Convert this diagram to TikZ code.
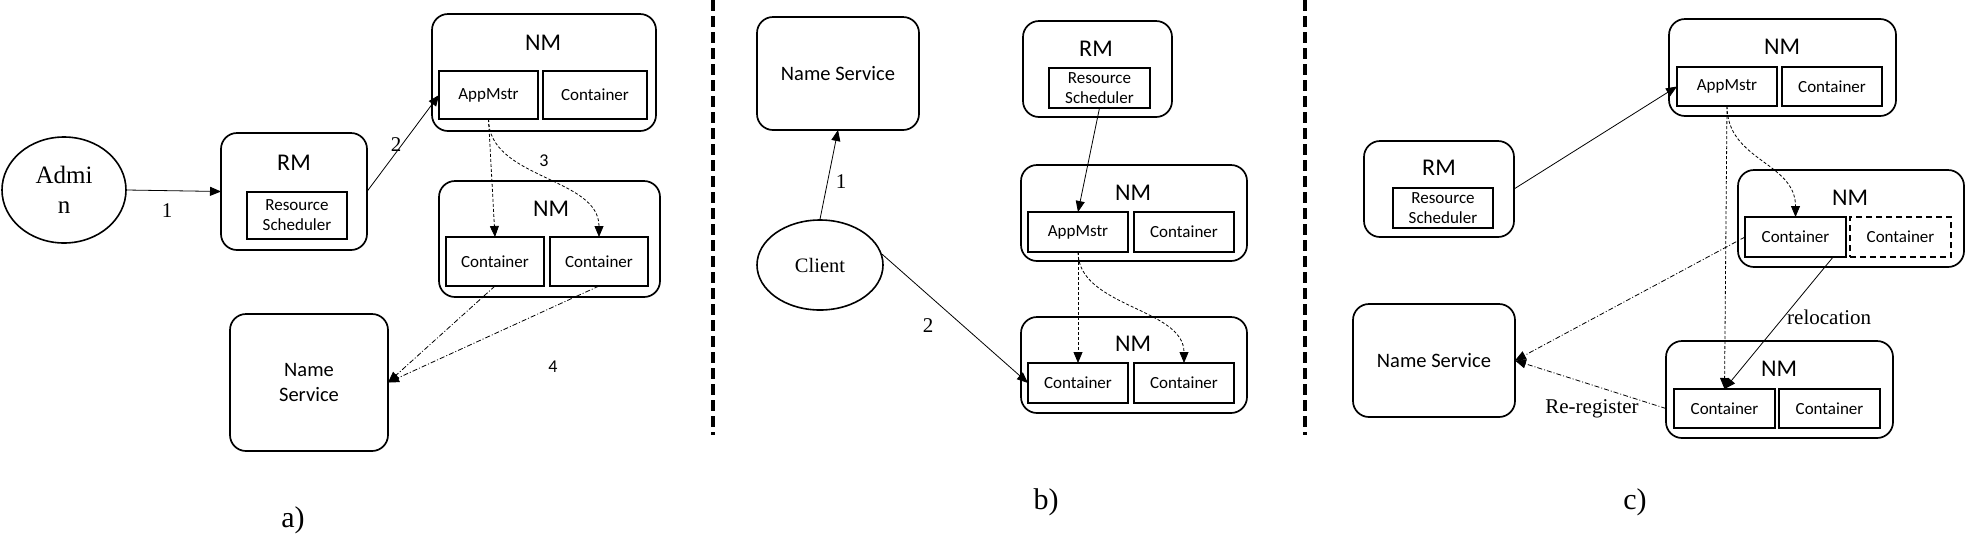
\documentclass[tikz,border=0pt]{standalone}
\usepackage{fontspec}
\setmainfont{Liberation Serif}
\newfontfamily\calfont{Carlito}
\usetikzlibrary{arrows.meta,shapes.geometric,calc}
\begin{document}
\begin{tikzpicture}[x=1pt,y=-1pt,
  outerbox/.style={draw, line width=1.7pt, rounded corners=16pt, inner sep=0pt, outer sep=0pt},
  innerbox/.style={draw, line width=1.8pt, inner sep=0pt, outer sep=0pt, align=center,
    font=\calfont\fontsize{17}{20}\selectfont},
  dashbox/.style={innerbox, dash pattern=on 6pt off 4pt},
  bigsans/.style={inner sep=0pt, font=\calfont\fontsize{24}{28}\selectfont},
  midsans/.style={inner sep=0pt, align=center, font=\calfont\fontsize{20.5}{25}\selectfont},
  numsans/.style={inner sep=0pt, font=\calfont\fontsize{18}{20}\selectfont},
  numserif/.style={inner sep=0pt, font=\fontsize{21}{24}\selectfont},
  caption/.style={inner sep=0pt, font=\fontsize{30}{34}\selectfont},
  oval/.style={draw, ellipse, line width=1.6pt, inner sep=0pt, align=center},
  arr/.style={-{Triangle[length=11pt,width=9pt]}, line width=0.8pt},
  dasharr/.style={arr, dash pattern=on 3pt off 2pt},
  dotarr/.style={arr, dash pattern=on 5pt off 2pt on 1pt off 2pt},
  sep/.style={line width=4pt, dash pattern=on 11pt off 5pt}
]
\useasboundingbox (0,0) rectangle (1965,558);

% separators
\coordinate (s1t) at (713,0);
\coordinate (s1b) at (713,435);
\coordinate (s2t) at (1305,0);
\coordinate (s2b) at (1305,435);
\draw[sep] (s1t) -- (s1b);
\draw[sep] (s2t) -- (s2b);

% ================= panel a =================
\node[oval, minimum width=124pt, minimum height=106pt, font=\fontsize{25}{30}\selectfont] (admin) at (64,190) {Admi\\n};
\node[outerbox, minimum width=146pt, minimum height=117pt] (rmA) at (294,191.5) {};
\node[bigsans] (rmAl) at (294,163) {RM};
\node[innerbox, minimum width=100pt, minimum height=47pt] (rsA) at (297,215.5) {Resource\\Scheduler};
\node[outerbox, minimum width=224pt, minimum height=117pt] (nmA1) at (544,72.5) {};
\node[bigsans] (nmA1l) at (543,43) {NM};
\node[innerbox, minimum width=99pt, minimum height=48pt] (amA) at (488.5,95) {AppMstr};
\node[innerbox, minimum width=104pt, minimum height=48pt] (cA1) at (595,95) {Container};
\node[outerbox, minimum width=221pt, minimum height=116pt] (nmA2) at (549.5,239) {};
\node[bigsans] (nmA2l) at (551,209) {NM};
\node[innerbox, minimum width=98pt, minimum height=49pt] (cA2) at (495,261.5) {Container};
\node[innerbox, minimum width=98pt, minimum height=49pt] (cA3) at (599,261.5) {Container};
\node[outerbox, minimum width=158pt, minimum height=137pt, midsans] (nsA) at (309,382.5) {Name\\Service};

\draw[arr] (admin.east) -- (rmA.west);
\draw[arr] (rmA.east) -- (amA.west);
\draw[dasharr] (amA.south) -- (cA2.north);
\draw[dasharr] (amA.south) .. controls +(0,60) and +(0,-60) .. (cA3.north);
\draw[dotarr] (cA2.south) -- (nsA.east);
\draw[dotarr] (cA3.south) -- (nsA.east);

\node[numserif] (la1) at (167,211) {1};
\node[numserif] (la2) at (396,145) {2};
\node[numsans] (la3) at (544,161) {3};
\node[numsans] (la4) at (553,367) {4};
\node[caption] (capa) at (293,520) {a)};

% ================= panel b =================
\node[outerbox, minimum width=162pt, minimum height=113pt, midsans] (nsB) at (838,73.5) {Name Service};
\node[oval, minimum width=126pt, minimum height=90pt, font=\fontsize{20.5}{24}\selectfont] (client) at (820,265) {Client};
\node[outerbox, minimum width=149pt, minimum height=96pt] (rmB) at (1097.5,69) {};
\node[bigsans] (rmBl) at (1096,49) {RM};
\node[innerbox, minimum width=101pt, minimum height=40pt] (rsB) at (1099.5,88) {Resource\\Scheduler};
\node[outerbox, minimum width=226pt, minimum height=96pt] (nmB1) at (1134,213) {};
\node[bigsans] (nmB1l) at (1133,193) {NM};
\node[innerbox, minimum width=100pt, minimum height=40pt] (amB) at (1078,232) {AppMstr};
\node[innerbox, minimum width=100pt, minimum height=40pt] (cB1) at (1184,232) {Container};
\node[outerbox, minimum width=226pt, minimum height=96pt] (nmB2) at (1134,365) {};
\node[bigsans] (nmB2l) at (1133,344) {NM};
\node[innerbox, minimum width=100pt, minimum height=40pt] (cB2) at (1078,383) {Container};
\node[innerbox, minimum width=100pt, minimum height=40pt] (cB3) at (1184,383) {Container};

\draw[arr] (client.north) -- (nsB.south);
\draw[arr] (client.10) -- (cB2.west);
\draw[arr] (rsB.south) -- (amB.north);
\draw[dasharr] (amB.south) -- (cB2.north);
\draw[dasharr] (amB.south) .. controls +(0,55) and +(0,-55) .. (cB3.north);

\node[numserif] (lb1) at (841,182) {1};
\node[numserif] (lb2) at (928,326) {2};
\node[caption] (capb) at (1046,502) {b)};

% ================= panel c =================
\node[outerbox, minimum width=227pt, minimum height=97pt] (nmC1) at (1782.5,67.5) {};
\node[bigsans] (nmC1l) at (1782,47) {NM};
\node[innerbox, minimum width=100pt, minimum height=39pt] (amC) at (1727,86.5) {AppMstr};
\node[innerbox, minimum width=100pt, minimum height=39pt] (cC1) at (1832,86.5) {Container};
\node[outerbox, minimum width=150pt, minimum height=96pt] (rmC) at (1439,189) {};
\node[bigsans] (rmCl) at (1439,168) {RM};
\node[innerbox, minimum width=100pt, minimum height=40pt] (rsC) at (1443,208) {Resource\\Scheduler};
\node[outerbox, minimum width=226pt, minimum height=97pt] (nmC2) at (1851,218.5) {};
\node[bigsans] (nmC2l) at (1850,198) {NM};
\node[innerbox, minimum width=101pt, minimum height=40pt] (cC2) at (1795.5,237) {Container};
\node[dashbox, minimum width=101pt, minimum height=40pt] (cC3) at (1900.5,237) {Container};
\node[outerbox, minimum width=162pt, minimum height=113pt, midsans] (nsC) at (1434,360.5) {Name Service};
\node[outerbox, minimum width=227pt, minimum height=97pt] (nmC3) at (1779.5,389.5) {};
\node[bigsans] (nmC3l) at (1779,369) {NM};
\node[innerbox, minimum width=101pt, minimum height=39pt] (cC4) at (1724.5,408.5) {Container};
\node[innerbox, minimum width=101pt, minimum height=39pt] (cC5) at (1829.5,408.5) {Container};

\draw[arr] (rmC.east) -- (amC.west);
\draw[dasharr] (amC.south) -- (cC4.north);
\draw[dasharr] (amC.south) .. controls +(0,55) and +(0,-55) .. (cC2.north);
\draw[dotarr] (cC2.west) -- (nsC.east);
\draw[dotarr] (nmC3.west |- cC4) -- (nsC.east);
\draw[arr] (cC2.-28) -- (cC4.north);

\node[numserif, anchor=west] (lrel) at (1787,317) {relocation};
\node[numserif] (lrereg) at (1592,409) {Re-register};
\node[caption] (capc) at (1635,502) {c)};
\end{tikzpicture}
\end{document}
